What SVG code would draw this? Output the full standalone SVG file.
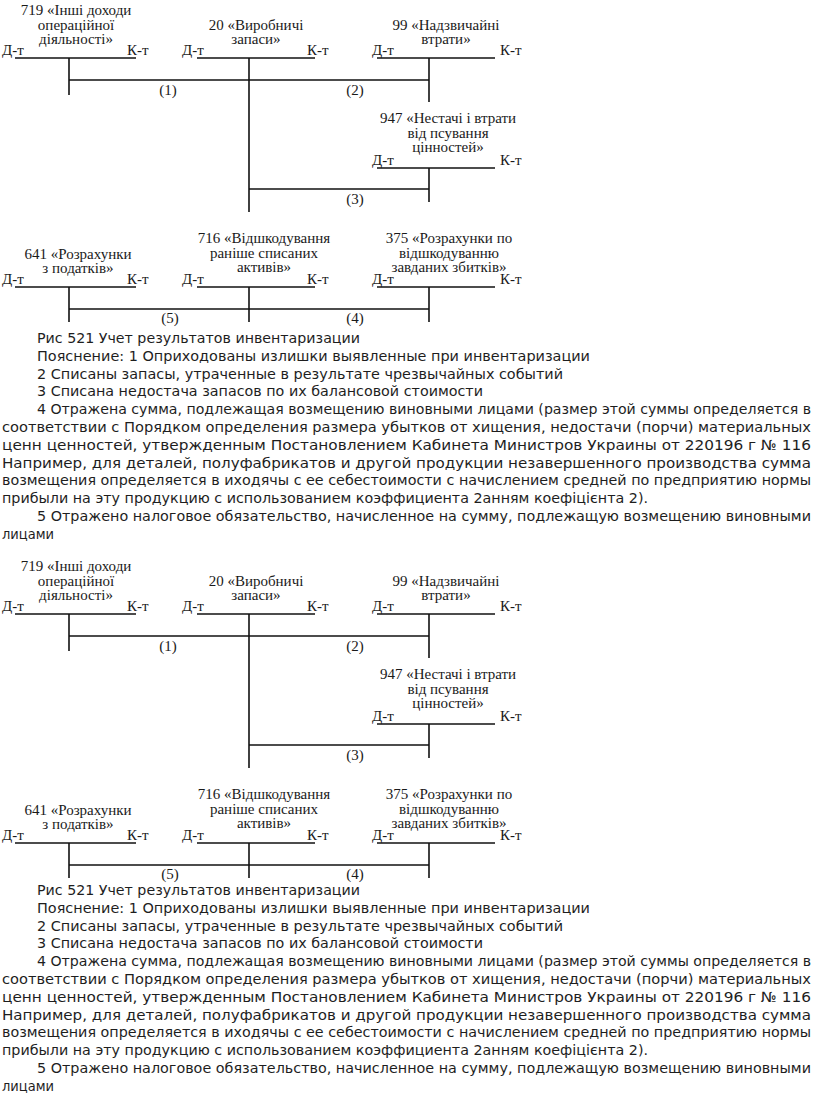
<svg xmlns="http://www.w3.org/2000/svg" width="816" height="1102" viewBox="0 0 816 1102">
<defs>
<style>
.t{font-family:"Liberation Serif","Times New Roman",serif;font-size:15px;fill:#1a1a1a}
.m{text-anchor:middle}
.ln{stroke:#111;stroke-width:1.6;fill:none}
.c{font-family:"DejaVu Sans Condensed","DejaVu Sans","Verdana",sans-serif;font-size:14.5px;fill:#1e1e1e}
</style>
</defs>
<g id="diagram">
<g id="acc719">
<text class="t m" x="76" y="15">719 «Інші доходи</text>
<text class="t m" x="76" y="30">операційної</text>
<text class="t m" x="76" y="44">діяльності»</text>
<text class="t" x="2" y="55">Д-т</text><text class="t" x="127" y="55">К-т</text>
<line class="ln" x1="15" y1="58" x2="136" y2="58"/><line class="ln" x1="69" y1="58" x2="69" y2="95"/>
</g>
<g id="acc20">
<text class="t m" x="256" y="30">20 «Виробничі</text>
<text class="t m" x="256" y="44">запаси»</text>
<text class="t" x="182" y="55">Д-т</text><text class="t" x="307" y="55">К-т</text>
<line class="ln" x1="197" y1="58" x2="315" y2="58"/><line class="ln" x1="249" y1="58" x2="249" y2="212"/>
</g>
<g id="acc99">
<text class="t m" x="446" y="30">99 «Надзвичайні</text>
<text class="t m" x="446" y="44">втрати»</text>
<text class="t" x="372" y="55">Д-т</text><text class="t" x="500" y="55">К-т</text>
<line class="ln" x1="377" y1="58" x2="495" y2="58"/><line class="ln" x1="429" y1="58" x2="429" y2="102"/>
</g>
<g id="acc947">
<text class="t m" x="448" y="123">947 «Нестачі і втрати</text>
<text class="t m" x="448" y="138">від псування</text>
<text class="t m" x="448" y="152">цінностей»</text>
<text class="t" x="372" y="165">Д-т</text><text class="t" x="500" y="165">К-т</text>
<line class="ln" x1="377" y1="168" x2="495" y2="168"/><line class="ln" x1="429" y1="168" x2="429" y2="202"/>
</g>
<g id="acc641">
<text class="t m" x="78" y="259">641 «Розрахунки</text>
<text class="t m" x="78" y="273">з податків»</text>
<text class="t" x="2" y="284">Д-т</text><text class="t" x="127" y="284">К-т</text>
<line class="ln" x1="15" y1="287" x2="136" y2="287"/><line class="ln" x1="69" y1="287" x2="69" y2="322"/>
</g>
<g id="acc716">
<text class="t m" x="264" y="243">716 «Відшкодування</text>
<text class="t m" x="264" y="258">раніше списаних</text>
<text class="t m" x="264" y="272">активів»</text>
<text class="t" x="182" y="284">Д-т</text><text class="t" x="307" y="284">К-т</text>
<line class="ln" x1="197" y1="287" x2="315" y2="287"/><line class="ln" x1="249" y1="287" x2="249" y2="322"/>
</g>
<g id="acc375">
<text class="t m" x="449" y="243">375 «Розрахунки по</text>
<text class="t m" x="449" y="258">відшкодуванню</text>
<text class="t m" x="449" y="272">завданих збитків»</text>
<text class="t" x="372" y="284">Д-т</text><text class="t" x="500" y="284">К-т</text>
<line class="ln" x1="377" y1="287" x2="495" y2="287"/><line class="ln" x1="429" y1="287" x2="429" y2="322"/>
</g>
<g id="connectors">
<line class="ln" x1="69" y1="80" x2="429" y2="80"/>
<line class="ln" x1="249" y1="189" x2="429" y2="189"/>
<line class="ln" x1="69" y1="309" x2="429" y2="309"/>
<text class="t m" x="168" y="95">(1)</text>
<text class="t m" x="355" y="95">(2)</text>
<text class="t m" x="355" y="204">(3)</text>
<text class="t m" x="170" y="323">(5)</text>
<text class="t m" x="355" y="323">(4)</text>
</g>
</g>
<g id="caption">
<text class="c" x="37" y="343" textLength="323" lengthAdjust="spacingAndGlyphs">Рис 521 Учет результатов инвентаризации</text>
<text class="c" x="37" y="361" textLength="553" lengthAdjust="spacingAndGlyphs">Пояснение: 1 Оприходованы излишки выявленные при инвентаризации</text>
<text class="c" x="37" y="379" textLength="526" lengthAdjust="spacingAndGlyphs">2 Списаны запасы, утраченные в результате чрезвычайных событий</text>
<text class="c" x="37" y="396" textLength="446" lengthAdjust="spacingAndGlyphs">3 Списана недостача запасов по их балансовой стоимости</text>
<text class="c" x="37" y="414" textLength="774" lengthAdjust="spacingAndGlyphs">4 Отражена сумма, подлежащая возмещению виновными лицами (размер этой суммы определяется в</text>
<text class="c" x="2" y="432" textLength="809" lengthAdjust="spacingAndGlyphs">соответствии с Порядком определения размера убытков от хищения, недостачи (порчи) материальных</text>
<text class="c" x="2" y="450" textLength="809" lengthAdjust="spacingAndGlyphs">ценн ценностей, утвержденным Постановлением Кабинета Министров Украины от 220196 г № 116</text>
<text class="c" x="2" y="468" textLength="809" lengthAdjust="spacingAndGlyphs">Например, для деталей, полуфабрикатов и другой продукции незавершенного производства сумма</text>
<text class="c" x="2" y="485" textLength="809" lengthAdjust="spacingAndGlyphs">возмещения определяется в иходячы с ее себестоимости с начислением средней по предприятию нормы</text>
<text class="c" x="2" y="503" textLength="646" lengthAdjust="spacingAndGlyphs">прибыли на эту продукцию с использованием коэффициента 2анням коефіцієнта 2).</text>
<text class="c" x="37" y="521" textLength="774" lengthAdjust="spacingAndGlyphs">5 Отражено налоговое обязательство, начисленное на сумму, подлежащую возмещению виновными</text>
<text class="c" x="2" y="539" textLength="52" lengthAdjust="spacingAndGlyphs">лицами</text>
</g>
<g id="diagram2" transform="translate(0,556)">
<g id="acc719b">
<text class="t m" x="76" y="15">719 «Інші доходи</text>
<text class="t m" x="76" y="30">операційної</text>
<text class="t m" x="76" y="44">діяльності»</text>
<text class="t" x="2" y="55">Д-т</text><text class="t" x="127" y="55">К-т</text>
<line class="ln" x1="15" y1="58" x2="136" y2="58"/><line class="ln" x1="69" y1="58" x2="69" y2="95"/>
</g>
<g id="acc20b">
<text class="t m" x="256" y="30">20 «Виробничі</text>
<text class="t m" x="256" y="44">запаси»</text>
<text class="t" x="182" y="55">Д-т</text><text class="t" x="307" y="55">К-т</text>
<line class="ln" x1="197" y1="58" x2="315" y2="58"/><line class="ln" x1="249" y1="58" x2="249" y2="212"/>
</g>
<g id="acc99b">
<text class="t m" x="446" y="30">99 «Надзвичайні</text>
<text class="t m" x="446" y="44">втрати»</text>
<text class="t" x="372" y="55">Д-т</text><text class="t" x="500" y="55">К-т</text>
<line class="ln" x1="377" y1="58" x2="495" y2="58"/><line class="ln" x1="429" y1="58" x2="429" y2="102"/>
</g>
<g id="acc947b">
<text class="t m" x="448" y="123">947 «Нестачі і втрати</text>
<text class="t m" x="448" y="138">від псування</text>
<text class="t m" x="448" y="152">цінностей»</text>
<text class="t" x="372" y="165">Д-т</text><text class="t" x="500" y="165">К-т</text>
<line class="ln" x1="377" y1="168" x2="495" y2="168"/><line class="ln" x1="429" y1="168" x2="429" y2="202"/>
</g>
<g id="acc641b">
<text class="t m" x="78" y="259">641 «Розрахунки</text>
<text class="t m" x="78" y="273">з податків»</text>
<text class="t" x="2" y="284">Д-т</text><text class="t" x="127" y="284">К-т</text>
<line class="ln" x1="15" y1="287" x2="136" y2="287"/><line class="ln" x1="69" y1="287" x2="69" y2="322"/>
</g>
<g id="acc716b">
<text class="t m" x="264" y="243">716 «Відшкодування</text>
<text class="t m" x="264" y="258">раніше списаних</text>
<text class="t m" x="264" y="272">активів»</text>
<text class="t" x="182" y="284">Д-т</text><text class="t" x="307" y="284">К-т</text>
<line class="ln" x1="197" y1="287" x2="315" y2="287"/><line class="ln" x1="249" y1="287" x2="249" y2="322"/>
</g>
<g id="acc375b">
<text class="t m" x="449" y="243">375 «Розрахунки по</text>
<text class="t m" x="449" y="258">відшкодуванню</text>
<text class="t m" x="449" y="272">завданих збитків»</text>
<text class="t" x="372" y="284">Д-т</text><text class="t" x="500" y="284">К-т</text>
<line class="ln" x1="377" y1="287" x2="495" y2="287"/><line class="ln" x1="429" y1="287" x2="429" y2="322"/>
</g>
<g id="connectors2">
<line class="ln" x1="69" y1="80" x2="429" y2="80"/>
<line class="ln" x1="249" y1="189" x2="429" y2="189"/>
<line class="ln" x1="69" y1="309" x2="429" y2="309"/>
<text class="t m" x="168" y="95">(1)</text>
<text class="t m" x="355" y="95">(2)</text>
<text class="t m" x="355" y="204">(3)</text>
<text class="t m" x="170" y="323">(5)</text>
<text class="t m" x="355" y="323">(4)</text>
</g>
</g>
<g id="caption2" transform="translate(0,552)">
<text class="c" x="37" y="343" textLength="323" lengthAdjust="spacingAndGlyphs">Рис 521 Учет результатов инвентаризации</text>
<text class="c" x="37" y="361" textLength="553" lengthAdjust="spacingAndGlyphs">Пояснение: 1 Оприходованы излишки выявленные при инвентаризации</text>
<text class="c" x="37" y="379" textLength="526" lengthAdjust="spacingAndGlyphs">2 Списаны запасы, утраченные в результате чрезвычайных событий</text>
<text class="c" x="37" y="396" textLength="446" lengthAdjust="spacingAndGlyphs">3 Списана недостача запасов по их балансовой стоимости</text>
<text class="c" x="37" y="414" textLength="774" lengthAdjust="spacingAndGlyphs">4 Отражена сумма, подлежащая возмещению виновными лицами (размер этой суммы определяется в</text>
<text class="c" x="2" y="432" textLength="809" lengthAdjust="spacingAndGlyphs">соответствии с Порядком определения размера убытков от хищения, недостачи (порчи) материальных</text>
<text class="c" x="2" y="450" textLength="809" lengthAdjust="spacingAndGlyphs">ценн ценностей, утвержденным Постановлением Кабинета Министров Украины от 220196 г № 116</text>
<text class="c" x="2" y="468" textLength="809" lengthAdjust="spacingAndGlyphs">Например, для деталей, полуфабрикатов и другой продукции незавершенного производства сумма</text>
<text class="c" x="2" y="485" textLength="809" lengthAdjust="spacingAndGlyphs">возмещения определяется в иходячы с ее себестоимости с начислением средней по предприятию нормы</text>
<text class="c" x="2" y="503" textLength="646" lengthAdjust="spacingAndGlyphs">прибыли на эту продукцию с использованием коэффициента 2анням коефіцієнта 2).</text>
<text class="c" x="37" y="521" textLength="774" lengthAdjust="spacingAndGlyphs">5 Отражено налоговое обязательство, начисленное на сумму, подлежащую возмещению виновными</text>
<text class="c" x="2" y="539" textLength="52" lengthAdjust="spacingAndGlyphs">лицами</text>
</g>
</svg>
